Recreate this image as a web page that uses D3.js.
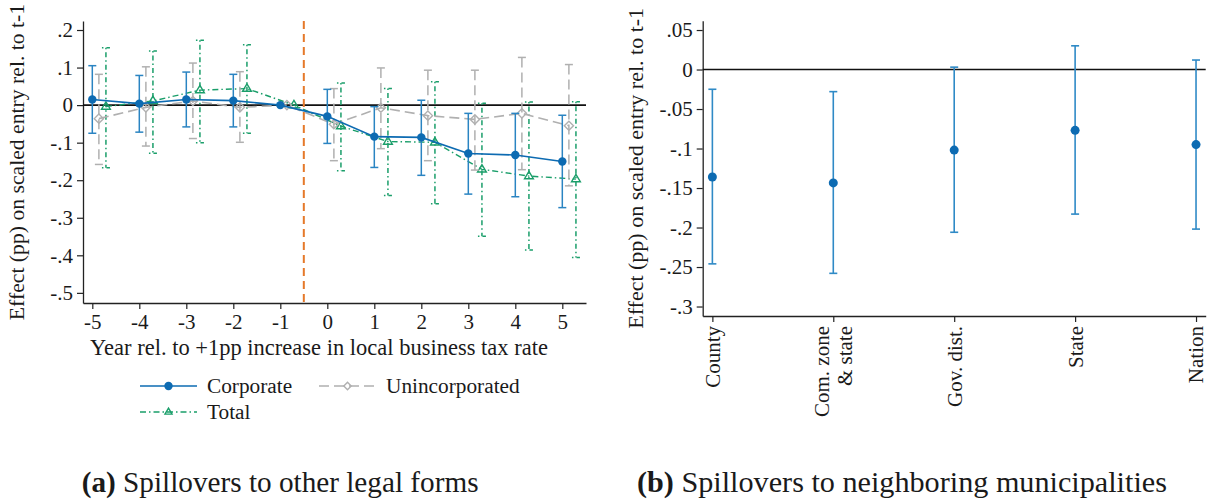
<!DOCTYPE html>
<html>
<head>
<meta charset="utf-8">
<script src="https://cdn.jsdelivr.net/npm/d3@7"></script>
<style>
  body { margin: 0; background: #fff; }
  svg { display: block; }
  text { font-family: "Liberation Serif", "Times New Roman", serif; fill: #1a1a1a; }
</style>
</head>
<body>
<svg id="chart" width="1219" height="501"></svg>
<script>
// ---------- Panel (a): event-study estimates by legal form ----------
const years = [-5, -4, -3, -2, -1, 0, 1, 2, 3, 4, 5];
const xTickLabelsA = ["-5", "-4", "-3", "-2", "-1", "0", "1", "2", "3", "4", "5"];

const corporateEst = [0.015, 0.004, 0.015, 0.012, 0, -0.030, -0.084, -0.086, -0.129, -0.133, -0.150];
const corporateLo  = [-0.075, -0.072, -0.058, -0.058, null, -0.102, -0.166, -0.187, -0.237, -0.244, -0.273];
const corporateHi  = [0.105, 0.079, 0.088, 0.082, null, 0.042, -0.004, 0.013, -0.022, -0.022, -0.027];

const unincEst = [-0.036, -0.006, 0.011, -0.006, 0, -0.051, -0.007, -0.028, -0.038, -0.022, -0.055];
const unincLo  = [-0.158, -0.109, -0.089, -0.099, null, -0.148, -0.116, -0.148, -0.173, -0.172, -0.215];
const unincHi  = [0.082, 0.102, 0.112, 0.089, null, 0.044, 0.099, 0.093, 0.093, 0.127, 0.108];

const totalEst = [-0.004, 0.011, 0.040, 0.044, 0, -0.056, -0.097, -0.099, -0.171, -0.189, -0.197];
const totalLo  = [-0.167, -0.128, -0.100, -0.075, null, -0.175, -0.241, -0.263, -0.349, -0.386, -0.406];
const totalHi  = [0.153, 0.144, 0.173, 0.161, null, 0.059, 0.044, 0.062, 0.005, 0.008, 0.009];

const seriesNames = ["Corporate", "Unincorporated", "Total"];
const yTicksA = [0.2, 0.1, 0, -0.1, -0.2, -0.3, -0.4, -0.5];
const yTickLabelsA = [".2", ".1", "0", "-.1", "-.2", "-.3", "-.4", "-.5"];
const eventLine = -0.5;

// ---------- Panel (b): spillovers by region level ----------
const regions = ["County", "Com. zone\n& state", "Gov. dist.", "State", "Nation"];
const regionEst = [-0.136, -0.1435, -0.102, -0.077, -0.095];
const regionLo  = [-0.246, -0.258, -0.206, -0.183, -0.202];
const regionHi  = [-0.025, -0.028, 0.003, 0.030, 0.012];
const yTicksB = [0.05, 0, -0.05, -0.1, -0.15, -0.2, -0.25, -0.3];
const yTickLabelsB = [".05", "0", "-.05", "-.1", "-.15", "-.2", "-.25", "-.3"];

const titleA = "Year rel. to +1pp increase in local business tax rate";
const yTitle = "Effect (pp) on scaled entry rel. to t-1";
const captionA = ["(a)", " Spillovers to other legal forms"];
const captionB = ["(b)", " Spillovers to neighboring municipalities"];

const svg = d3.select("#chart");
svg.append("rect").attr("width", 1219).attr("height", 501).attr("fill", "#fff");

const TICK_FONT = 21;
const AXIS_COLOR = "#222";

function styleAxis(g) {
  g.selectAll(".domain").attr("stroke", AXIS_COLOR).attr("stroke-width", 1.3);
  g.selectAll(".tick line").attr("stroke", AXIS_COLOR).attr("stroke-width", 1.2);
  g.selectAll(".tick text").attr("font-size", TICK_FONT)
    .attr("font-family", "Liberation Serif, Times New Roman, serif").attr("fill", "#1a1a1a");
}

// ================= Panel (a) =================
const xA = d3.scaleLinear().domain([-5.198, 5.504]).range([83, 586]);
const yA = d3.scaleLinear().domain([-0.527, 0.224]).range([303, 21]);

const gA = svg.append("g");

gA.append("g").attr("transform", "translate(83,0)")
  .call(d3.axisLeft(yA).tickValues(yTicksA).tickSize(6).tickPadding(4).tickSizeOuter(0)
    .tickFormat((d, i) => yTickLabelsA[i]))
  .call(styleAxis);

gA.append("g").attr("transform", "translate(0,303)")
  .call(d3.axisBottom(xA).tickValues(years).tickSize(6).tickPadding(5).tickSizeOuter(0)
    .tickFormat((d, i) => xTickLabelsA[i]))
  .call(styleAxis);

// zero reference line
gA.append("line")
  .attr("x1", xA.range()[0]).attr("x2", xA.range()[1])
  .attr("y1", yA(0)).attr("y2", yA(0))
  .attr("stroke", "#111").attr("stroke-width", 1.6);

// treatment timing
gA.append("line")
  .attr("x1", xA(eventLine)).attr("x2", xA(eventLine))
  .attr("y1", yA.range()[1]).attr("y2", yA.range()[0])
  .attr("stroke", "#E5792A").attr("stroke-width", 2).attr("stroke-dasharray", "8,5");

const series = [
  { name: seriesNames[2], est: totalEst, lo: totalLo, hi: totalHi, offset: 0.29,
    color: "#1a9e6a", ciColor: "#1a9e6a", dash: "6,3,1.5,3", ciDash: "1.5,3,5,3", marker: "triangle", width: 1.4 },
  { name: seriesNames[1], est: unincEst, lo: unincLo, hi: unincHi, offset: 0.14,
    color: "#b0b0b0", ciColor: "#b0b0b0", dash: "10,5", ciDash: "10,5", marker: "diamond", width: 1.6 },
  { name: seriesNames[0], est: corporateEst, lo: corporateLo, hi: corporateHi, offset: 0,
    color: "#0d6bb2", ciColor: "#2a84c2", dash: null, ciDash: null, marker: "circle", width: 1.6 }
];

function drawMarker(g, type, x, y, color, scale) {
  const s = scale || 1;
  if (type === "circle") {
    g.append("circle").attr("cx", x).attr("cy", y).attr("r", 4.2 * s).attr("fill", color);
  } else if (type === "diamond") {
    const r = 4.6 * s;
    g.append("path").attr("d", `M${x},${y - r}L${x + r},${y}L${x},${y + r}L${x - r},${y}Z`)
      .attr("fill", "none").attr("stroke", color).attr("stroke-width", 1.4);
  } else {
    const r = 4.8 * s;
    g.append("path")
      .attr("d", `M${x},${y - r}L${x + r * 0.92},${y + r * 0.55}L${x - r * 0.92},${y + r * 0.55}Z`)
      .attr("fill", "none").attr("stroke", color).attr("stroke-width", 1.4);
  }
}

series.forEach(s => {
  const g = gA.append("g");
  const pts = years.map((yr, i) => ({ x: yr + s.offset, est: s.est[i], lo: s.lo[i], hi: s.hi[i] }));
  // confidence intervals
  pts.filter(p => p.lo !== null).forEach(p => {
    const px = xA(p.x);
    const ci = g.append("g").attr("stroke", s.ciColor).attr("stroke-width", 1.5).attr("fill", "none");
    if (s.ciDash) ci.attr("stroke-dasharray", s.ciDash);
    ci.append("line").attr("x1", px).attr("x2", px).attr("y1", yA(p.hi)).attr("y2", yA(p.lo));
    ci.append("line").attr("x1", px - 4).attr("x2", px + 4).attr("y1", yA(p.hi)).attr("y2", yA(p.hi));
    ci.append("line").attr("x1", px - 4).attr("x2", px + 4).attr("y1", yA(p.lo)).attr("y2", yA(p.lo));
  });
  // connecting line
  const path = g.append("path").datum(pts)
    .attr("d", d3.line().x(p => xA(p.x)).y(p => yA(p.est)))
    .attr("fill", "none").attr("stroke", s.color).attr("stroke-width", s.width);
  if (s.dash) path.attr("stroke-dasharray", s.dash);
  pts.forEach(p => drawMarker(g, s.marker, xA(p.x), yA(p.est), s.color));
});

// axis titles
gA.append("text")
  .attr("transform", `translate(24,${(yA.range()[0] + yA.range()[1]) / 2}) rotate(-90)`)
  .attr("text-anchor", "middle").attr("font-size", 21.7).text(yTitle);
gA.append("text")
  .attr("x", 319).attr("y", 355)
  .attr("text-anchor", "middle").attr("font-size", 22.5).text(titleA);

// legend
const legendItems = [
  { s: series[2 - 0], x0: 140, y: 386 },
  { s: series[1], x0: 319, y: 386 },
  { s: series[0], x0: 140, y: 412 }
];
legendItems.forEach(item => {
  const s = item.s;
  const ln = gA.append("line")
    .attr("x1", item.x0).attr("x2", item.x0 + 57).attr("y1", item.y).attr("y2", item.y)
    .attr("stroke", s.color).attr("stroke-width", s.width);
  if (s.dash) ln.attr("stroke-dasharray", s.dash);
  const lg = gA.append("g");
  drawMarker(lg, s.marker, item.x0 + 28.5, item.y, s.color, s.marker === "circle" ? 1 : 0.8);
  gA.append("text").attr("x", item.x0 + 67).attr("y", item.y + 7)
    .attr("font-size", 21.3).text(s.name);
});

// ================= Panel (b) =================
const xB = d3.scalePoint().domain(regions).range([702.7, 1205.7]).padding(0.08);
const yB = d3.scaleLinear().domain([-0.312, 0.0618]).range([316, 20.7]);
const gB = svg.append("g");

gB.append("g").attr("transform", "translate(702.7,0)")
  .call(d3.axisLeft(yB).tickValues(yTicksB).tickSize(6).tickPadding(4).tickSizeOuter(0)
    .tickFormat((d, i) => yTickLabelsB[i]))
  .call(styleAxis);

const xAxisB = gB.append("g").attr("transform", "translate(0,316)")
  .call(d3.axisBottom(xB).tickSize(6).tickSizeOuter(0))
  .call(styleAxis);

// rotated, possibly two-line category labels
xAxisB.selectAll(".tick text").each(function (d) {
  const t = d3.select(this);
  const lines = d.split("\n");
  t.text(null)
    .attr("transform", "rotate(-90)")
    .attr("text-anchor", "end")
    .attr("x", -10).attr("y", 0).attr("dy", null);
  const lh = 23;
  lines.forEach((ln, i) => {
    t.append("tspan").attr("x", -10)
      .attr("y", (i - (lines.length - 1) / 2) * lh)
      .attr("dy", "0.33em").text(ln);
  });
});

gB.append("line")
  .attr("x1", 702.7).attr("x2", 1205.7).attr("y1", yB(0)).attr("y2", yB(0))
  .attr("stroke", "#111").attr("stroke-width", 1.6);

regions.forEach((r, i) => {
  const px = xB(r);
  const ci = gB.append("g").attr("stroke", "#2f8ac6").attr("stroke-width", 1.6);
  ci.append("line").attr("x1", px).attr("x2", px).attr("y1", yB(regionHi[i])).attr("y2", yB(regionLo[i]));
  ci.append("line").attr("x1", px - 4).attr("x2", px + 4).attr("y1", yB(regionHi[i])).attr("y2", yB(regionHi[i]));
  ci.append("line").attr("x1", px - 4).attr("x2", px + 4).attr("y1", yB(regionLo[i])).attr("y2", yB(regionLo[i]));
  gB.append("circle").attr("cx", px).attr("cy", yB(regionEst[i])).attr("r", 4.5).attr("fill", "#0d6bb2");
});

gB.append("text")
  .attr("transform", `translate(643,${(yB.range()[0] + yB.range()[1]) / 2}) rotate(-90)`)
  .attr("text-anchor", "middle").attr("font-size", 22).text(yTitle);

// ================= Captions =================
function caption(parts, x, y, targetWidth) {
  const t = svg.append("text").attr("x", x).attr("y", y).attr("font-size", 28);
  t.append("tspan").attr("font-weight", "bold").text(parts[0]);
  t.append("tspan").text(parts[1]);
  const w = t.node().getComputedTextLength();
  t.attr("font-size", 28 * targetWidth / w);
}
caption(captionA, 81.7, 492, 397);
caption(captionB, 637, 492, 530);
</script>
</body>
</html>
